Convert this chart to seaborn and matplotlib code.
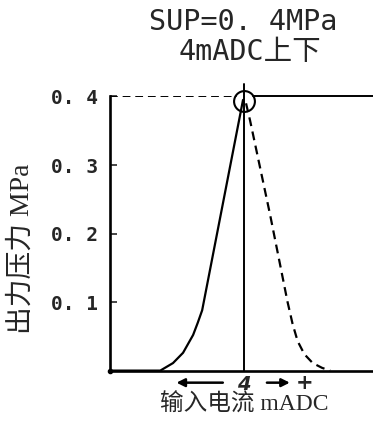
import numpy as np
import pandas as pd
import matplotlib
matplotlib.use("Agg")
import matplotlib.pyplot as plt
import seaborn as sns

# values (x in mA around the 4 mA centre, y in MPa)
rise_x = [0.0, 1.5, 1.88, 2.18, 2.48, 2.62, 2.75, 3.97]
rise_y = [0.0, 0.0, 0.011, 0.026, 0.052, 0.07, 0.088, 0.395]
fall_x = [4.06, 4.18, 4.78, 5.3, 5.45, 5.6, 5.8, 6.05, 6.33, 6.57]
fall_y = [0.39, 0.365, 0.227, 0.1, 0.068, 0.043, 0.024, 0.011, 0.004, 0.0]
sup_level = 0.4
center_ma = 4
yticks = [0.1, 0.2, 0.3, 0.4]
ytick_labels = ["0. 1", "0. 2", "0. 3", "0. 4"]

title_1 = "SUP=0. 4MPa"
title_2 = "4mADC上下"
ylabel = "出力压力 MPa"
xlabel = "输入电流 mADC"

sns.set_style("white")
plt.rcParams['font.family'] = ['DejaVu Sans', 'Noto Sans CJK SC']

fig = plt.figure(figsize=(3.73, 4.25), dpi=100)
ax = fig.add_axes([0.295, 0.128, 0.705, 0.645])

rise = pd.DataFrame({"x": rise_x, "y": rise_y})
fall = pd.DataFrame({"x": fall_x, "y": fall_y})
sns.lineplot(data=rise, x="x", y="y", ax=ax, color="black", lw=1.6, sort=False)
sns.lineplot(data=fall, x="x", y="y", ax=ax, color="black", lw=1.6, sort=False,
             linestyle=(0, (4, 2.5)))

# supply level: dashed left of the peak, solid right of it
ax.plot([0, 3.78], [sup_level, sup_level], color="black", lw=1.4, ls=(0, (4, 2.5)))
ax.plot([4.27, 7.85], [sup_level, sup_level], color="black", lw=1.4, clip_on=False)
# 4 mA line
ax.plot([center_ma, center_ma], [0, 0.418], color="black", lw=1.4, clip_on=False)
# peak circle
ax.plot([center_ma], [0.393], marker="o", ms=15, mfc="none", mec="black", mew=1.5,
        clip_on=False)
ax.plot([0], [0], marker="o", ms=3, color="black", clip_on=False)

ax.set_xlim(0, 7.85)
ax.set_ylim(0, 0.4)
sns.despine(ax=ax, top=True, right=True)
for s in ["left", "bottom"]:
    ax.spines[s].set_linewidth(1.9)
    ax.spines[s].set_color("black")
ax.spines["left"].set_bounds(0, 0.4)

ax.set_yticks(yticks)
ax.set_yticklabels(ytick_labels, family="DejaVu Sans Mono", fontsize=14, fontweight="bold")
ax.tick_params(axis="y", direction="in", length=5, width=1.2, pad=9, left=True)
ax.set_xticks([center_ma])
ax.set_xticklabels(["4"], fontsize=14, fontweight="bold", style="italic")
ax.tick_params(axis="x", length=0, pad=3)
ax.set_xlabel("")
ax.set_ylabel("")

# direction arrows under the x axis
tr = ax.get_xaxis_transform()
ax.annotate("", xy=(1.9, -0.044), xytext=(3.45, -0.044), xycoords=tr, textcoords=tr,
            arrowprops=dict(arrowstyle="-|>", color="black", lw=1.8, mutation_scale=12))
ax.annotate("", xy=(5.45, -0.044), xytext=(4.6, -0.044), xycoords=tr, textcoords=tr,
            arrowprops=dict(arrowstyle="-|>", color="black", lw=1.8, mutation_scale=12))
ax.text(5.8, -0.044, "+", transform=tr, ha="center", va="center", fontsize=15,
        fontweight="bold")

fig.text(0.06, 0.415, ylabel, rotation=90, ha="center", va="center", fontsize=20,
         family=['Liberation Serif', 'Noto Sans CJK SC'])
fig.text(0.655, 0.047, xlabel, ha="center", va="center", fontsize=17,
         family=['Liberation Serif', 'Noto Sans CJK SC'])
fig.text(0.653, 0.948, title_1, ha="center", va="center", fontsize=20.5,
         family=['DejaVu Sans Mono', 'Noto Sans CJK SC'])
fig.text(0.67, 0.878, title_2, ha="center", va="center", fontsize=20.5,
         family=['DejaVu Sans Mono', 'Noto Sans CJK SC'])

fig.savefig("out.png", dpi=100)
